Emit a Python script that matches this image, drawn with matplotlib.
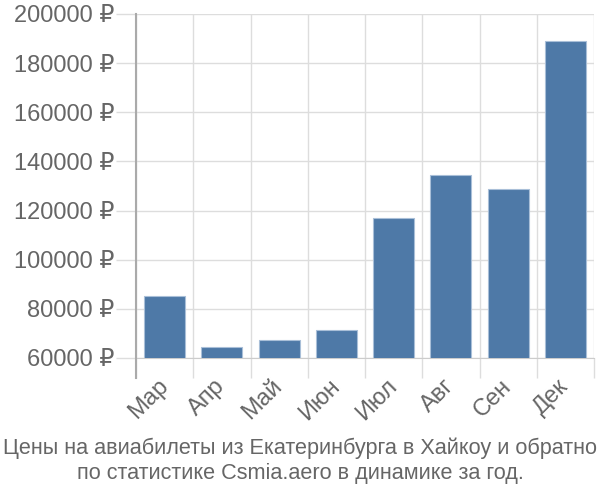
import matplotlib
matplotlib.use("Agg")
import matplotlib.pyplot as plt
from matplotlib.lines import Line2D
import numpy as np

plt.rcParams['font.family'] = ['Liberation Sans', 'DejaVu Sans']

months = ["Мар", "Апр", "Май", "Июн", "Июл", "Авг", "Сен", "Дек"]
prices = [85300, 64500, 67300, 71400, 117100, 134300, 128600, 189000]
yticks = [60000, 80000, 100000, 120000, 140000, 160000, 180000, 200000]
title = "Цены на авиабилеты из Екатеринбурга в Хайкоу и обратно\nпо статистике Csmia.aero в динамике за год."

fig = plt.figure(figsize=(6, 5), dpi=100)
ax = fig.add_axes([136/600, 1-358/500, (594-136)/600, (358-14)/500])

x = np.arange(len(months))
ax.bar(x, prices, width=0.72, color="#4e79a7", edgecolor="#a9bfd8", linewidth=0.8, zorder=3)

ax.set_xlim(-0.5, len(months) - 0.5)
ax.set_ylim(yticks[0], yticks[-1])

ax.set_yticks(yticks)
ax.set_yticklabels([f"{v} ₽" for v in yticks])
ax.set_xticks(x)
ax.set_xticklabels(months, rotation=45, ha="right", va="center", rotation_mode="anchor")
ax.set_xticks(np.arange(-0.5, len(months), 1.0), minor=True)

grid_c = "#dddddd"
ax.yaxis.grid(True, color=grid_c, linewidth=1, zorder=0)
ax.xaxis.grid(True, which="minor", color=grid_c, linewidth=1, zorder=0)
ax.tick_params(axis="y", length=14.4, color=grid_c, width=1, labelsize=17, labelcolor="#666666", pad=1)
ax.tick_params(axis="x", which="major", length=0, labelsize=17, labelcolor="#666666", pad=18)
ax.tick_params(axis="x", which="minor", length=14.4, color=grid_c, width=1)

for s in ["top", "right"]:
    ax.spines[s].set_visible(False)
ax.spines["bottom"].set_color("#cccccc")
ax.spines["left"].set_visible(False)
ax.add_line(Line2D([0, 0], [1, -20/344], transform=ax.transAxes, color="#aaaaaa",
                   linewidth=1.5, clip_on=False, zorder=5))

fig.text(0.5, 1-461/500, title, ha="center", va="center", fontsize=15.6,
         color="#666666", linespacing=1.28)

fig.savefig("out.png", dpi=100)
